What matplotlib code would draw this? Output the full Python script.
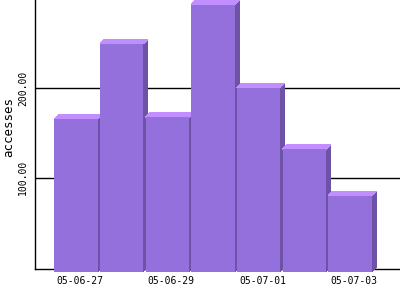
import matplotlib
matplotlib.use('Agg')
import matplotlib.pyplot as plt
from matplotlib.patches import Polygon

# Data
days = ['05-06-27', '05-06-28', '05-06-29', '05-06-30', '05-07-01', '05-07-02', '05-07-03']
accesses = [171, 255, 173, 299, 206, 137, 85]

front_col = '#9370db'
top_col = '#c08eff'
side_col = '#6e52a6'

fig = plt.figure(figsize=(4, 3), dpi=100)
W, H = 400, 300
ax_left, ax_bottom = 35, 269.3
ax = fig.add_axes([ax_left / W, (H - ax_bottom) / H, (W - ax_left) / W, ax_bottom / H])

ax.set_xlim(-1, 7)
ax.set_ylim(-2.5, 299)

# pixel -> data conversion for the 3d offset
px_x = 8 / (W - ax_left)
px_y = (299 + 2.5) / ax_bottom
dx = 4.5 * px_x
dy = 4.5 * px_y
w = 0.953

for i, v in enumerate(accesses):
    x0 = i - w / 2
    x1 = i + w / 2
    # side face
    side = Polygon([(x1 - dx, -dy), (x1, 0), (x1, v), (x1 - dx, v - dy)],
                   closed=True, facecolor=side_col, edgecolor='none',
                   zorder=3, clip_on=False, antialiased=False)
    ax.add_patch(side)
    # top face
    top = Polygon([(x0 - dx, v - dy), (x0, v), (x1, v), (x1 - dx, v - dy)],
                  closed=True, facecolor=top_col, edgecolor='none',
                  zorder=3, clip_on=False, antialiased=False)
    ax.add_patch(top)
    # front face
    front = Polygon([(x0 - dx, -dy), (x1 - dx, -dy), (x1 - dx, v - dy), (x0 - dx, v - dy)],
                    closed=True, facecolor=front_col, edgecolor='none',
                    zorder=3, clip_on=False, antialiased=False)
    ax.add_patch(front)

# x labels on every other day, left aligned at the bar front
tick_pos = [i - w / 2 - dx + 2 * px_x for i in range(0, len(days), 2)]
ax.set_xticks(tick_pos)
ax.set_xticklabels(days[::2], fontsize=7, family='DejaVu Sans Mono', ha='left')
ax.tick_params(axis='x', length=0, pad=5)

ax.set_yticks([100, 200])
ax.set_yticklabels(['100.00', '200.00'], fontsize=7, family='DejaVu Sans Mono',
                   rotation=90, va='center')
ax.tick_params(axis='y', length=0, pad=5)

ax.set_ylabel('accesses', fontsize=9, family='DejaVu Sans Mono', va='center')
ax.yaxis.set_label_coords(-0.071, 0.53)

ax.grid(axis='y', color='black', linewidth=1)
ax.set_axisbelow(True)
for s in ['top', 'right']:
    ax.spines[s].set_visible(False)
for s in ['left', 'bottom']:
    ax.spines[s].set_linewidth(1)
    ax.spines[s].set_zorder(1)

fig.savefig('out.png', dpi=100)
